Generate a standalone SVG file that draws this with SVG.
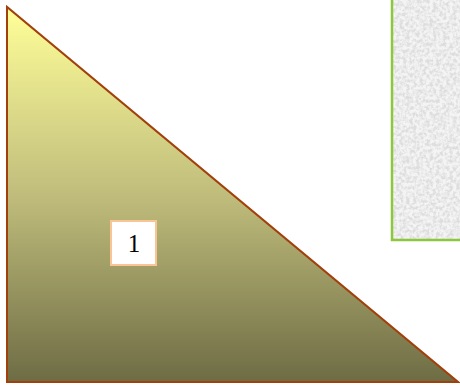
<svg xmlns="http://www.w3.org/2000/svg" width="460" height="387" viewBox="0 0 460 387">
<style>
.tri{stroke:#a2400c;stroke-width:2;stroke-linejoin:miter}
.lbl{fill:#ffffff;stroke:#f9c596;stroke-width:2}
.txt{font-family:"Liberation Serif",serif;font-size:25px;fill:#000}
.tex{stroke:#8dc63f;stroke-width:2.5}
</style>
<defs>
<linearGradient id="g" x1="0" y1="0" x2="0" y2="1">
<stop offset="0" stop-color="#ffff99"/>
<stop offset="0.5" stop-color="#c0bd7c"/>
<stop offset="1" stop-color="#6e6c44"/>
</linearGradient>
<filter id="noise" x="0" y="0" width="100%" height="100%">
<feTurbulence type="fractalNoise" baseFrequency="0.3" numOctaves="3" seed="4" result="n"/>
<feColorMatrix in="n" type="matrix" values="0 0 0 0 0.72  0 0 0 0 0.72  0 0 0 0 0.72  0 0 0 -3 1.9" result="c"/>
<feFlood flood-color="#f4f4f4" result="bg"/>
<feComposite in="c" in2="bg" operator="over" result="m"/>
<feComposite in="m" in2="SourceGraphic" operator="in"/>
</filter>
</defs>
<g id="texture">
<rect x="392" y="-5" width="75" height="245" fill="#eeeeee" filter="url(#noise)"/>
<rect class="tex" x="392" y="-5" width="75" height="245" fill="none"/>
</g>
<g id="triangle">
<polygon class="tri" points="7,7 7,382 458,382" fill="url(#g)"/>
</g>
<g id="label1">
<rect class="lbl" x="111" y="221" width="45" height="44"/>
<text class="txt" x="134" y="252" text-anchor="middle">1</text>
</g>
</svg>
